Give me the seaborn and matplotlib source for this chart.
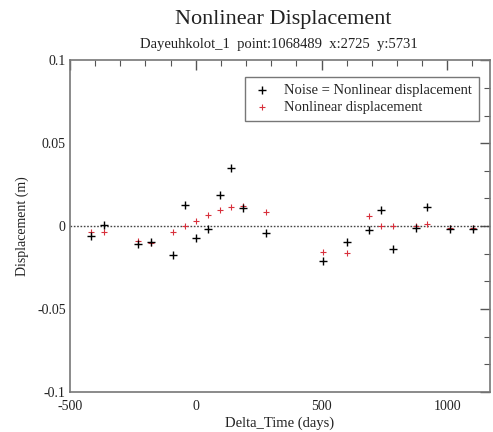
import matplotlib
matplotlib.use("Agg")
import matplotlib.pyplot as plt
import matplotlib.ticker as mticker
import seaborn as sns
import pandas as pd

delta_time = [-417, -365, -230, -179, -91, -44, 0, 48, 95, 139, 187, 281,
              504, 603, 690, 738, 786, 877, 920, 1012, 1103]
noise_plus_nonlinear = [-0.006, 0.0005, -0.011, -0.0095, -0.0175, 0.013, -0.007, -0.002,
                        0.019, 0.035, 0.011, -0.004, -0.021, -0.0095, -0.0025, 0.010,
                        -0.014, -0.001, 0.0115, -0.002, -0.0015]
nonlinear = [-0.0035, -0.0035, -0.009, -0.010, -0.0035, 0.0, 0.003, 0.0065,
             0.010, 0.0115, 0.012, 0.0085, -0.0157, -0.016, 0.006, 0.0,
             0.0, 0.0, 0.001, -0.001, -0.001]

title = "Nonlinear Displacement"
subtitle = "Dayeuhkolot_1  point:1068489  x:2725  y:5731"
label_noise = "Noise = Nonlinear displacement"
label_nl = "Nonlinear displacement"

df = pd.DataFrame({"t": delta_time, "n": noise_plus_nonlinear, "nl": nonlinear})

sns.set_style("white")
plt.rcParams["font.family"] = ["Liberation Serif", "DejaVu Serif"]
plt.rcParams["axes.unicode_minus"] = False

fig = plt.figure(figsize=(4.93, 4.32), dpi=100)
ax = fig.add_axes([0.142, 0.0926, 0.852, 0.768])

ax.axhline(0, color="#444444", linestyle=(0, (1.2, 1.2)), linewidth=1.0, zorder=1)
sns.scatterplot(data=df, x="t", y="n", marker="+", color="black", s=28,
                linewidth=1.0, ax=ax, label=label_noise, zorder=3)
sns.scatterplot(data=df, x="t", y="nl", marker="+", color="#d8303c", s=16,
                linewidth=0.8, ax=ax, label=label_nl, zorder=2)

ax.set_xlim(-500, 1170)
ax.set_ylim(-0.1, 0.1)
ax.xaxis.set_major_locator(mticker.MultipleLocator(500))
ax.xaxis.set_minor_locator(mticker.MultipleLocator(100))
ax.yaxis.set_major_locator(mticker.MultipleLocator(0.05))
ax.yaxis.set_minor_locator(mticker.MultipleLocator(0.05 / 3))
ax.yaxis.set_major_formatter(mticker.FuncFormatter(lambda v, p: f"{v:g}" if abs(v) > 1e-9 else "0"))

ax.tick_params(which="both", direction="in", top=True, right=True, colors="#555555",
               labelcolor="#222222", labelsize=10)
ax.tick_params(which="major", length=7, width=1)
ax.tick_params(which="minor", length=4, width=0.8)
ax.tick_params(axis="x", which="major", pad=6)
ax.tick_params(axis="y", which="major", pad=3)
for s in ax.spines.values():
    s.set_color("#777777")
    s.set_linewidth(1.2)

ax.set_xlabel("Delta_Time (days)", fontsize=10.5, color="#222222", labelpad=2)
ax.set_ylabel("Displacement (m)", fontsize=10, color="#222222", labelpad=6)

fig.text(0.575, 0.955, title, ha="center", va="center", fontsize=16, color="#222222")
fig.text(0.565, 0.897, subtitle, ha="center", va="center", fontsize=10.5, color="#222222")

leg = ax.legend(loc="upper right", bbox_to_anchor=(0.99, 0.97), fontsize=10.5,
                frameon=True, fancybox=False, edgecolor="#555555",
                handletextpad=0.9, borderpad=0.45, labelspacing=0.25, handlelength=1.3)
leg.get_frame().set_linewidth(1.0)

fig.savefig("out.png", dpi=100, facecolor="white")
